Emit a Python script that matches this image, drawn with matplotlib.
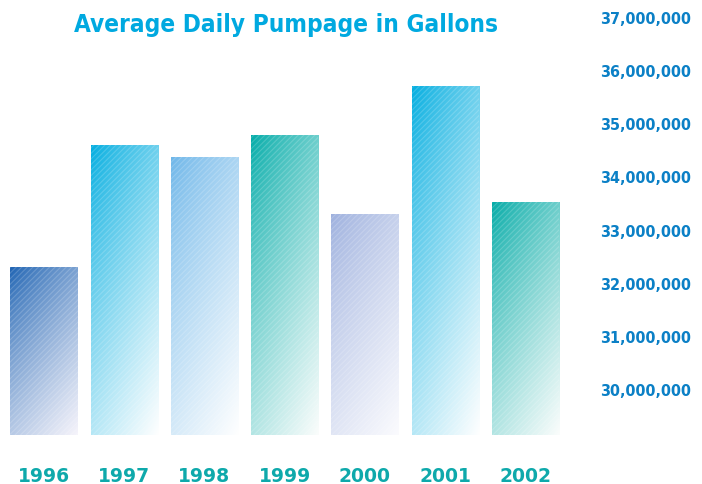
import numpy as np
import matplotlib
matplotlib.use("Agg")
import matplotlib.pyplot as plt
from matplotlib.colors import to_rgb

# Average daily pumpage per year (gallons)
years = ["1996", "1997", "1998", "1999", "2000", "2001", "2002"]
pumpage = [32290000, 34590000, 34360000, 34770000, 33290000, 35700000, 33520000]
bar_colors = ["#1c62b2", "#00ade0", "#6db6e9", "#00aba8", "#9db0de", "#00ade0", "#00aaa6"]
fade_colors = ["#f6f4fb", "#ffffff", "#ffffff", "#fbfdfc", "#fbfbfe", "#ffffff", "#fbfdfc"]
yticks = [30000000, 31000000, 32000000, 33000000, 34000000, 35000000, 36000000, 37000000]

plt.rcParams["hatch.linewidth"] = 0.8
narrow = dict(family="DejaVu Sans", stretch="condensed", weight="bold")

fig = plt.figure(figsize=(7.02, 4.85), dpi=100)
ax = fig.add_axes([0.0, 0.101, 560 / 702, 0.862])

x = np.arange(len(years))
width = 0.84
ax.set_xlim(-0.548, 6.43)
ax.set_ylim(29135000, 37000000)
base = ax.get_ylim()[0]


def gradient(c0, c1, nx=80, ny=300):
    # diagonal fade: colour at the top-left corner, white at the bottom-right
    u = np.linspace(0, 1, nx)
    v = np.linspace(0, 1, ny)
    U, V = np.meshgrid(u, v)
    t = np.clip(0.35 * U + 0.65 * V, 0, 1) ** 0.8
    c0 = np.array(to_rgb(c0))
    c1 = np.array(to_rgb(c1))
    return c0 + (c1 - c0) * t[..., None]


bars = ax.bar(x, pumpage, width=width, color="none", linewidth=0, zorder=1)
for bar, c0, c1 in zip(bars, bar_colors, fade_colors):
    x0 = bar.get_x()
    x1 = x0 + bar.get_width()
    img = ax.imshow(gradient(c0, c1), extent=(x0, x1, base, bar.get_height()),
                    origin="upper", aspect="auto", interpolation="bilinear", zorder=1)
    img.set_clip_path(bar)

# faint white diagonal texture over the bars
ax.bar(x, pumpage, width=width, facecolor="none", edgecolor=(1, 1, 1, 0.18),
       hatch="//////", linewidth=0, zorder=2)

for s in ax.spines.values():
    s.set_visible(False)

ax.set_xticks(x)
ax.set_xticklabels(years)
ax.yaxis.tick_right()
ax.set_yticks(yticks)
ax.set_yticklabels([f"{v:,}" for v in yticks])
ax.tick_params(axis="x", length=0, pad=22, labelcolor="#0ea9ab")
ax.tick_params(axis="y", length=0, pad=29, labelcolor="#0b80c6")
for lbl in ax.get_xticklabels():
    lbl.set_fontfamily("DejaVu Sans")
    lbl.set_fontweight("bold")
    lbl.set_fontsize(13.5)
for lbl in ax.get_yticklabels():
    lbl.set_fontproperties(dict(narrow, size=11.5))
    lbl.set_horizontalalignment("left")

fig.text(286 / 702, 1 - 25 / 485, "Average Daily Pumpage in Gallons",
         ha="center", va="center", color="#00a9e0", fontsize=17.5, **narrow)

fig.savefig("out.png", dpi=100)
